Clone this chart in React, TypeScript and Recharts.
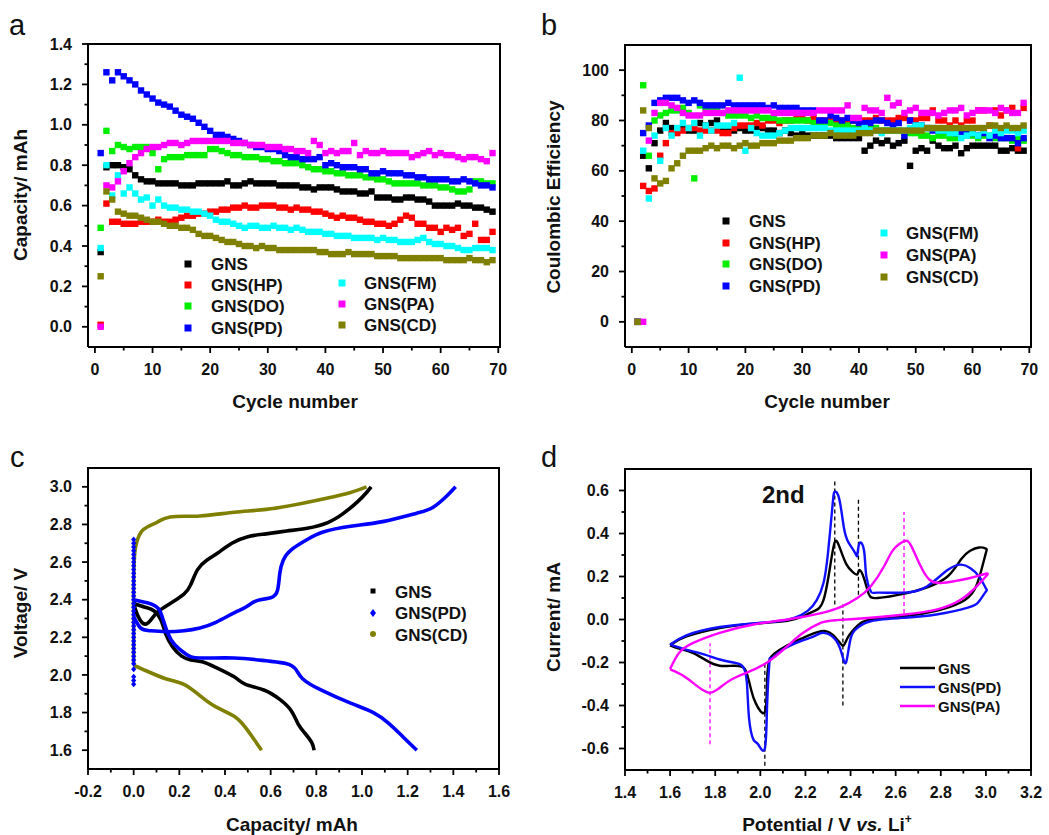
import React from 'react';
import { ComposedChart, Line, ReferenceLine, Scatter, ScatterChart, XAxis, YAxis } from 'recharts';

const FONT = '"Liberation Sans", Arial, Helvetica, sans-serif';
const INK = '#111111';
const AXIS = '#000000';

const BLACK = '#000000';
const RED = '#ff0000';
const GREEN = '#00ee00';
const BLUE = '#0000ff';
const CYAN = '#00ffff';
const MAGENTA = '#ff00ff';
const OLIVE = '#808000';

// ---------- panel a / b: cycling data ----------
const cycles = [
  1, 2, 3, 4, 5, 6, 7, 8, 9, 10, 11, 12, 13, 14, 15, 16, 17, 18, 19, 20, 21, 22, 23, 24, 25, 26, 27, 28, 29, 30,
  31, 32, 33, 34, 35, 36, 37, 38, 39, 40, 41, 42, 43, 44, 45, 46, 47, 48, 49, 50, 51, 52, 53, 54, 55, 56, 57, 58,
  59, 60, 61, 62, 63, 64, 65, 66, 67, 68, 69
];

const capGNS = [
  0.37, 0.79, 0.8, 0.8, 0.79, 0.78, 0.75, 0.73, 0.72, 0.72, 0.71, 0.71, 0.71, 0.71, 0.7, 0.7, 0.7, 0.71, 0.71, 0.71,
  0.71, 0.71, 0.72, 0.7, 0.7, 0.71, 0.72, 0.71, 0.71, 0.71, 0.71, 0.7, 0.7, 0.7, 0.7, 0.69, 0.69, 0.68, 0.69, 0.69,
  0.69, 0.68, 0.67, 0.67, 0.67, 0.66, 0.66, 0.67, 0.64, 0.64, 0.64, 0.63, 0.63, 0.64, 0.64, 0.63, 0.63, 0.62, 0.6,
  0.6, 0.6, 0.6, 0.61, 0.6, 0.6, 0.59, 0.59, 0.58, 0.57
];
const capHP = [
  0.01, 0.61, 0.52, 0.52, 0.51, 0.51, 0.51, 0.52, 0.52, 0.52, 0.53, 0.52, 0.52, 0.53, 0.54, 0.55, 0.55, 0.56, 0.56,
  0.57, 0.57, 0.58, 0.58, 0.59, 0.59, 0.6, 0.59, 0.59, 0.6, 0.6, 0.6, 0.59, 0.59, 0.58, 0.59, 0.58, 0.58, 0.57, 0.57,
  0.56, 0.55, 0.54, 0.55, 0.54, 0.54, 0.53, 0.52, 0.52, 0.51, 0.51, 0.5, 0.51, 0.53, 0.55, 0.54, 0.51, 0.51, 0.49,
  0.49, 0.47, 0.49, 0.48, 0.49, 0.45, 0.46, 0.51, 0.43, 0.43, 0.47
];
const capDO = [
  0.49, 0.97, 0.87, 0.9, 0.89, 0.88, 0.89, 0.89, 0.89, 0.86, 0.78, 0.83, 0.84, 0.84, 0.84, 0.85, 0.85, 0.85, 0.85,
  0.88, 0.88, 0.87, 0.86, 0.85, 0.85, 0.84, 0.84, 0.84, 0.83, 0.83, 0.82, 0.82, 0.81, 0.81, 0.81, 0.8, 0.79, 0.78,
  0.78, 0.77, 0.77, 0.76, 0.76, 0.75, 0.75, 0.75, 0.74, 0.74, 0.73, 0.73, 0.72, 0.71, 0.71, 0.71, 0.71, 0.71, 0.7,
  0.7, 0.7, 0.69, 0.69, 0.68, 0.67, 0.67, 0.68, 0.72, 0.72, 0.71, 0.71
];
const capPD = [
  0.86, 1.26, 1.22, 1.26, 1.24, 1.22, 1.2, 1.17, 1.15, 1.13, 1.11, 1.1, 1.09, 1.07, 1.05, 1.04, 1.03, 1.01, 0.99,
  0.97, 0.95, 0.95, 0.94, 0.93, 0.92, 0.91, 0.9, 0.89, 0.89, 0.88, 0.88, 0.87, 0.85, 0.84, 0.84, 0.83, 0.83, 0.83,
  0.84, 0.8, 0.81, 0.8, 0.79, 0.79, 0.79, 0.78, 0.78, 0.76, 0.76, 0.77, 0.76, 0.76, 0.76, 0.75, 0.75, 0.74, 0.74,
  0.73, 0.73, 0.73, 0.73, 0.72, 0.72, 0.73, 0.72, 0.71, 0.7, 0.7, 0.69
];
const capFM = [
  0.39, 0.8, 0.65, 0.75, 0.66, 0.69, 0.66, 0.63, 0.64, 0.6, 0.63, 0.6, 0.59, 0.59, 0.58, 0.58, 0.57, 0.57, 0.56,
  0.55, 0.53, 0.52, 0.52, 0.51, 0.5, 0.49, 0.5, 0.5, 0.49, 0.49, 0.5, 0.49, 0.49, 0.48, 0.49, 0.48, 0.47, 0.47, 0.47,
  0.46, 0.46, 0.45, 0.45, 0.45, 0.44, 0.44, 0.44, 0.44, 0.43, 0.44, 0.43, 0.43, 0.42, 0.42, 0.42, 0.43, 0.44, 0.42,
  0.41, 0.41, 0.4, 0.4, 0.39, 0.38, 0.38, 0.39, 0.39, 0.39, 0.38
];
const capPA = [
  0.0, 0.7, 0.69, 0.72, 0.77, 0.81, 0.84, 0.86, 0.88, 0.89, 0.89, 0.9, 0.91, 0.91, 0.9, 0.91, 0.92, 0.92, 0.92, 0.92,
  0.92, 0.92, 0.92, 0.91, 0.91, 0.91, 0.9, 0.9, 0.9, 0.89, 0.89, 0.89, 0.88, 0.88, 0.87, 0.87, 0.86, 0.92, 0.9, 0.86,
  0.87, 0.86, 0.87, 0.87, 0.91, 0.85, 0.87, 0.86, 0.86, 0.87, 0.86, 0.86, 0.86, 0.86, 0.84, 0.85, 0.86, 0.87, 0.85,
  0.86, 0.85, 0.85, 0.84, 0.83, 0.84, 0.84, 0.83, 0.82, 0.86
];
const capCD = [
  0.25, 0.67, 0.63, 0.57, 0.56, 0.55, 0.55, 0.54, 0.53, 0.52, 0.52, 0.51, 0.5, 0.5, 0.49, 0.49, 0.48, 0.46, 0.45,
  0.45, 0.44, 0.43, 0.42, 0.42, 0.41, 0.4, 0.4, 0.39, 0.4, 0.39, 0.39, 0.38, 0.38, 0.38, 0.38, 0.38, 0.38, 0.38, 0.37,
  0.37, 0.36, 0.36, 0.36, 0.37, 0.36, 0.36, 0.36, 0.36, 0.35, 0.35, 0.35, 0.35, 0.34, 0.34, 0.34, 0.34, 0.34, 0.34,
  0.34, 0.34, 0.33, 0.33, 0.33, 0.33, 0.34, 0.33, 0.33, 0.32, 0.33
];

const ceGNS = [
  0, 66, 61, 71, 76, 79, 77, 76, 77, 76, 76, 79, 78, 79, 80, 77, 77, 76, 77, 76, 76, 77, 77, 76, 76, 75, 76, 75, 74,
  75, 74, 74, 74, 74, 74, 73, 73, 73, 73, 73, 68, 70, 72, 71, 72, 70, 71, 72, 62, 68, 69, 68, 72, 70, 69, 69, 70, 67,
  69, 70, 70, 70, 70, 70, 68, 68, 69, 68, 68
];
const ceHP = [
  0, 54, 52, 53, 66, 71, 75, 75, 76, 77, 77, 76, 76, 76, 76, 75, 75, 77, 78, 78, 78, 79, 78, 80, 80, 79, 80, 80, 81,
  81, 80, 81, 80, 80, 80, 80, 80, 79, 80, 80, 80, 80, 81, 80, 80, 80, 81, 81, 80, 80, 81, 81, 84, 80, 80, 78, 80, 78,
  80, 80, 84, 84, 78, 84, 82, 84, 85, 69, 85
];
const ceDO = [
  0, 94, 66, 80, 82, 83, 84, 84, 85, 83, 57, 86, 85, 85, 84, 83, 82, 82, 82, 82, 81, 82, 81, 81, 81, 80, 80, 80, 80,
  80, 80, 79, 79, 79, 79, 78, 78, 78, 77, 77, 77, 77, 77, 76, 76, 76, 76, 75, 75, 75, 74, 74, 73, 74, 74, 73, 73, 74,
  74, 74, 73, 74, 74, 73, 73, 73, 72, 73, 72
];
const cePD = [
  0, 75, 78, 87, 88, 89, 89, 89, 88, 87, 88, 87, 86, 86, 86, 86, 87, 86, 86, 86, 86, 86, 86, 85, 86, 85, 85, 85, 85,
  84, 84, 84, 80, 80, 82, 81, 80, 81, 80, 79, 79, 79, 80, 80, 79, 78, 79, 74, 80, 78, 78, 77, 76, 76, 76, 76, 75, 75,
  75, 75, 74, 75, 73, 74, 73, 73, 73, 71, 73
];
const ceFM = [
  0, 68, 49, 74, 64, 77, 74, 77, 79, 77, 79, 74, 78, 76, 78, 78, 78, 79, 97, 68, 77, 75, 74, 74, 74, 75, 76, 77, 77,
  77, 77, 77, 77, 77, 76, 76, 76, 76, 76, 76, 77, 76, 76, 75, 76, 76, 76, 76, 77, 78, 78, 77, 77, 76, 76, 75, 75, 73,
  74, 75, 74, 76, 74, 76, 75, 76, 76, 75, 76
];
const cePA = [
  0, 0, 72, 83, 87, 87, 86, 85, 83, 82, 82, 82, 83, 83, 83, 83, 84, 84, 84, 84, 84, 84, 84, 84, 83, 83, 83, 83, 83,
  83, 83, 83, 84, 84, 84, 84, 84, 86, 81, 81, 85, 84, 84, 83, 89, 86, 87, 83, 84, 85, 83, 83, 83, 82, 83, 84, 84, 85,
  82, 83, 84, 84, 84, 83, 85, 84, 83, 83, 87
];
const ceCD = [
  0, 84, 77, 57, 55, 56, 61, 63, 66, 68, 68, 68, 69, 70, 69, 70, 70, 69, 70, 71, 70, 70, 71, 71, 71, 72, 72, 72, 73,
  73, 73, 74, 74, 74, 75, 74, 74, 74, 74, 75, 75, 75, 76, 76, 76, 76, 76, 76, 76, 76, 76, 77, 77, 77, 77, 77, 77, 77,
  77, 77, 77, 77, 78, 78, 77, 78, 77, 77, 78
];

const sampleNames = ['GNS', 'GNS(HP)', 'GNS(DO)', 'GNS(PD)', 'GNS(FM)', 'GNS(PA)', 'GNS(CD)'];
const sampleColors = [BLACK, RED, GREEN, BLUE, CYAN, MAGENTA, OLIVE];
const capacitySeries = [capGNS, capHP, capDO, capPD, capFM, capPA, capCD];
const efficiencySeries = [ceGNS, ceHP, ceDO, cePD, ceFM, cePA, ceCD];

// ---------- panel c: charge / discharge profiles [capacity, voltage] ----------
const gnsCharge: [number, number][] = [
  [0.0, 2.38], [0.02, 2.31], [0.05, 2.27], [0.08, 2.3], [0.11, 2.34], [0.16, 2.38], [0.22, 2.43], [0.25, 2.48],
  [0.28, 2.56], [0.32, 2.61], [0.37, 2.65], [0.43, 2.7], [0.5, 2.735], [0.58, 2.75], [0.67, 2.765], [0.76, 2.78],
  [0.85, 2.81], [0.92, 2.86], [0.98, 2.92], [1.02, 2.97], [1.04, 3.0]
];
const gnsDischarge: [number, number][] = [
  [0.0, 2.38], [0.05, 2.36], [0.09, 2.34], [0.12, 2.29], [0.14, 2.22], [0.17, 2.15], [0.21, 2.1], [0.25, 2.08],
  [0.3, 2.07], [0.36, 2.04], [0.44, 1.99], [0.49, 1.95], [0.57, 1.92], [0.64, 1.87], [0.69, 1.81], [0.72, 1.74],
  [0.75, 1.69], [0.78, 1.64], [0.79, 1.6]
];
const pdCharge: [number, number][] = [
  [0.0, 2.31], [0.03, 2.25], [0.07, 2.235], [0.14, 2.23], [0.22, 2.235], [0.29, 2.25], [0.36, 2.28], [0.44, 2.33],
  [0.49, 2.36], [0.54, 2.395], [0.6, 2.41], [0.63, 2.45], [0.64, 2.54], [0.655, 2.61], [0.69, 2.665], [0.76, 2.72],
  [0.83, 2.76], [0.95, 2.79], [1.09, 2.815], [1.24, 2.86], [1.31, 2.89], [1.37, 2.95], [1.41, 3.0]
];
const pdDischarge: [number, number][] = [
  [0.0, 2.4], [0.07, 2.38], [0.11, 2.35], [0.13, 2.29], [0.15, 2.22], [0.18, 2.16], [0.23, 2.11], [0.29, 2.09],
  [0.44, 2.09], [0.58, 2.075], [0.67, 2.06], [0.71, 2.03], [0.74, 1.98], [0.82, 1.92], [0.95, 1.85], [1.05, 1.8],
  [1.12, 1.74], [1.18, 1.67], [1.24, 1.6]
];
const pdRestVoltages = [
  1.95, 1.97, 1.99, 2.03, 2.06, 2.08, 2.1, 2.12, 2.14, 2.16, 2.18, 2.2, 2.22, 2.24, 2.26, 2.28, 2.3, 2.32, 2.34, 2.36,
  2.38, 2.4, 2.42, 2.44, 2.46, 2.48, 2.5, 2.52, 2.54, 2.56, 2.58, 2.6, 2.62, 2.64, 2.66, 2.68, 2.7, 2.72
];
const cdCharge: [number, number][] = [
  [0.0, 2.06], [0.0, 2.3], [0.0, 2.5], [0.004, 2.64], [0.012, 2.7], [0.04, 2.77], [0.1, 2.81], [0.16, 2.84],
  [0.29, 2.845], [0.44, 2.865], [0.58, 2.88], [0.73, 2.91], [0.85, 2.94], [0.95, 2.97], [1.02, 3.0]
];
const cdDischarge: [number, number][] = [
  [0.0, 2.05], [0.04, 2.03], [0.14, 1.98], [0.22, 1.95], [0.29, 1.89], [0.36, 1.83], [0.44, 1.78], [0.49, 1.72],
  [0.52, 1.67], [0.56, 1.6]
];

// ---------- panel d: cyclic voltammetry [potential, current] ----------
const cvGNS: [number, number][] = [
  [1.6, -0.12], [1.67, -0.08], [1.82, -0.04], [1.97, -0.02], [2.12, -0.006], [2.19, 0.015], [2.24, 0.04],
  [2.28, 0.09], [2.31, 0.25], [2.33, 0.36], [2.35, 0.34], [2.38, 0.26], [2.41, 0.22], [2.43, 0.21], [2.44, 0.23],
  [2.46, 0.19], [2.48, 0.12], [2.52, 0.1], [2.64, 0.12], [2.74, 0.15], [2.83, 0.2], [2.89, 0.28], [2.93, 0.32],
  [2.97, 0.335], [3.0, 0.33], [3.0, 0.31], [2.98, 0.23], [2.95, 0.14], [2.89, 0.08], [2.78, 0.04], [2.64, 0.015],
  [2.49, 0.0], [2.43, -0.03], [2.39, -0.08], [2.37, -0.12], [2.35, -0.105], [2.32, -0.07], [2.29, -0.054],
  [2.25, -0.06], [2.19, -0.085], [2.12, -0.12], [2.06, -0.16], [2.04, -0.19], [2.03, -0.28], [2.02, -0.43],
  [1.98, -0.39], [1.96, -0.33], [1.94, -0.25], [1.92, -0.22], [1.88, -0.215], [1.82, -0.215], [1.76, -0.19],
  [1.7, -0.155], [1.64, -0.135], [1.6, -0.12]
];
const cvPD: [number, number][] = [
  [1.6, -0.116], [1.67, -0.075], [1.82, -0.035], [2.04, -0.012], [2.15, 0.008], [2.21, 0.04], [2.25, 0.09],
  [2.28, 0.17], [2.3, 0.31], [2.32, 0.53], [2.33, 0.595], [2.35, 0.56], [2.37, 0.43], [2.39, 0.36], [2.42, 0.31],
  [2.43, 0.3], [2.44, 0.355], [2.46, 0.32], [2.47, 0.2], [2.49, 0.13], [2.52, 0.125], [2.64, 0.125], [2.74, 0.155],
  [2.83, 0.23], [2.89, 0.255], [2.93, 0.24], [2.97, 0.2], [3.0, 0.145], [3.0, 0.13], [2.97, 0.085], [2.92, 0.055],
  [2.78, 0.023], [2.64, 0.008], [2.49, -0.008], [2.43, -0.04], [2.4, -0.09], [2.38, -0.2], [2.36, -0.155],
  [2.33, -0.09], [2.28, -0.062], [2.24, -0.077], [2.18, -0.1], [2.1, -0.14], [2.05, -0.18], [2.04, -0.2],
  [2.03, -0.4], [2.02, -0.6], [1.99, -0.58], [1.97, -0.56], [1.95, -0.46], [1.94, -0.29], [1.92, -0.216],
  [1.88, -0.2], [1.82, -0.186], [1.75, -0.162], [1.67, -0.14], [1.6, -0.116]
];
const cvPA: [number, number][] = [
  [1.6, -0.23], [1.64, -0.155], [1.7, -0.11], [1.82, -0.062], [1.97, -0.023], [2.12, 0.0], [2.27, 0.03], [2.36, 0.06],
  [2.43, 0.1], [2.49, 0.155], [2.55, 0.25], [2.59, 0.325], [2.64, 0.365], [2.67, 0.34], [2.71, 0.25], [2.75, 0.185],
  [2.8, 0.17], [2.86, 0.178], [2.93, 0.193], [3.0, 0.213], [3.0, 0.2], [2.96, 0.155], [2.89, 0.093], [2.78, 0.046],
  [2.64, 0.023], [2.49, 0.008], [2.34, -0.003], [2.27, -0.015], [2.19, -0.062], [2.12, -0.124], [2.03, -0.2],
  [1.94, -0.247], [1.87, -0.28], [1.81, -0.325], [1.77, -0.34], [1.72, -0.31], [1.66, -0.263], [1.6, -0.232]
];
// dashed peak markers: [potential, from current, to current, colour]
const peakMarks: [number, number, number, string][] = [
  [2.33, 0.07, 0.65, BLACK],
  [2.435, 0.115, 0.56, BLACK],
  [2.366, -0.4, 0.07, BLACK],
  [2.02, -0.68, -0.21, BLACK],
  [2.637, 0.03, 0.5, MAGENTA],
  [1.777, -0.58, -0.11, MAGENTA]
];

// ---------- ticks ----------
const cycleTicks = [0, 5, 10, 15, 20, 25, 30, 35, 40, 45, 50, 55, 60, 65, 70];
const cycleMajors = [0, 10, 20, 30, 40, 50, 60, 70];
const capTicks = [0, 0.1, 0.2, 0.3, 0.4, 0.5, 0.6, 0.7, 0.8, 0.9, 1.0, 1.1, 1.2, 1.3, 1.4];
const capMajors = [0, 0.2, 0.4, 0.6, 0.8, 1.0, 1.2, 1.4];
const ceTicks = [0, 10, 20, 30, 40, 50, 60, 70, 80, 90, 100];
const ceMajors = [0, 20, 40, 60, 80, 100];
const cXTicks = [-0.2, -0.1, 0, 0.1, 0.2, 0.3, 0.4, 0.5, 0.6, 0.7, 0.8, 0.9, 1.0, 1.1, 1.2, 1.3, 1.4, 1.5, 1.6];
const cXMajors = [-0.2, 0, 0.2, 0.4, 0.6, 0.8, 1.0, 1.2, 1.4, 1.6];
const cYTicks = [1.6, 1.7, 1.8, 1.9, 2.0, 2.1, 2.2, 2.3, 2.4, 2.5, 2.6, 2.7, 2.8, 2.9, 3.0];
const cYMajors = [1.6, 1.8, 2.0, 2.2, 2.4, 2.6, 2.8, 3.0];
const dXTicks = [1.4, 1.5, 1.6, 1.7, 1.8, 1.9, 2.0, 2.1, 2.2, 2.3, 2.4, 2.5, 2.6, 2.7, 2.8, 2.9, 3.0, 3.1, 3.2];
const dXMajors = [1.4, 1.6, 1.8, 2.0, 2.2, 2.4, 2.6, 2.8, 3.0, 3.2];
const dYTicks = [-0.6, -0.5, -0.4, -0.3, -0.2, -0.1, 0, 0.1, 0.2, 0.3, 0.4, 0.5, 0.6];
const dYMajors = [-0.6, -0.4, -0.2, 0, 0.2, 0.4, 0.6];

type Panel = {
  left: number;
  top: number;
  width: number;
  height: number;
  margin: { top: number; right: number; bottom: number; left: number };
  domainX: [number, number];
  domainY: [number, number];
  xTicks: number[];
  xMajors: number[];
  yTicks: number[];
  yMajors: number[];
};

const panelA: Panel = {
  left: 0, top: 0, width: 520, height: 420, margin: { top: 44, right: 20, bottom: 33, left: 28 },
  domainX: [-1.2, 70.3], domainY: [-0.1, 1.4], xTicks: cycleTicks, xMajors: cycleMajors, yTicks: capTicks, yMajors: capMajors
};
const panelB: Panel = {
  left: 520, top: 0, width: 529, height: 420, margin: { top: 45, right: 18, bottom: 33, left: 45 },
  domainX: [-1.2, 70.3], domainY: [-10, 110], xTicks: cycleTicks, xMajors: cycleMajors, yTicks: ceTicks, yMajors: ceMajors
};
const panelC: Panel = {
  left: 0, top: 420, width: 520, height: 415, margin: { top: 48, right: 21, bottom: 26, left: 28 },
  domainX: [-0.2, 1.6], domainY: [1.5, 3.1], xTicks: cXTicks, xMajors: cXMajors, yTicks: cYTicks, yMajors: cYMajors
};
const panelD: Panel = {
  left: 520, top: 420, width: 529, height: 415, margin: { top: 49, right: 18, bottom: 25, left: 45 },
  domainX: [1.4, 3.2], domainY: [-0.7, 0.7], xTicks: dXTicks, xMajors: dXMajors, yTicks: dYTicks, yMajors: dYMajors
};

const toPoints = (xs: number[], ys: number[]) => xs.map((x, i) => ({ x, y: ys[i] }));
const pairPoints = (pairs: [number, number][]) => pairs.map(([x, y]) => ({ x, y }));

const fixed1 = (v: number) => v.toFixed(1);
const whole = (v: number) => String(Math.round(v));

function isMajor(majors: number[], v: number) {
  return majors.some((m) => Math.abs(m - v) < 1e-6);
}

// recharts hands over the axis position (tickSize/tickMargin are 0); tick mark + label drawn here
function bottomTick(majors: number[], fmt: (v: number) => string) {
  return (p: any) => {
    const v = p.payload.value;
    const major = isMajor(majors, v);
    return (
      <g>
        <line x1={p.x} x2={p.x} y1={p.y} y2={p.y + (major ? 6 : 3.5)} stroke={AXIS} strokeWidth={1.8} />
        {major ? (
          <text x={p.x} y={p.y + 28} textAnchor="middle" fontFamily={FONT} fontWeight="bold" fontSize={16} fill={INK}>
            {fmt(v)}
          </text>
        ) : null}
      </g>
    );
  };
}

function leftTick(majors: number[], fmt: (v: number) => string) {
  return (p: any) => {
    const v = p.payload.value;
    const major = isMajor(majors, v);
    return (
      <g>
        <line x1={p.x - (major ? 6 : 3.5)} x2={p.x} y1={p.y} y2={p.y} stroke={AXIS} strokeWidth={1.8} />
        {major ? (
          <text x={p.x - 16} y={p.y + 5.6} textAnchor="end" fontFamily={FONT} fontWeight="bold" fontSize={16} fill={INK}>
            {fmt(v)}
          </text>
        ) : null}
      </g>
    );
  };
}

const squareShape = (color: string) => (p: any) =>
  <rect x={p.cx - 3.2} y={p.cy - 3.2} width={6.4} height={6.4} fill={color} />;

const diamondShape = (p: any) => (
  <path d={`M${p.cx},${p.cy - 3} L${p.cx + 2.6},${p.cy} L${p.cx},${p.cy + 3} L${p.cx - 2.6},${p.cy} Z`} fill={BLUE} />
);

function axes(panel: Panel, xFmt: (v: number) => string, yFmt: (v: number) => string) {
  const frame = { stroke: AXIS, strokeWidth: 2, strokeLinecap: 'square' as const, ifOverflow: 'visible' as const };
  return [
    <XAxis
      key="x"
      type="number"
      dataKey="x"
      domain={panel.domainX}
      allowDataOverflow
      ticks={panel.xTicks}
      interval={0}
      tick={bottomTick(panel.xMajors, xFmt)}
      tickLine={false}
      tickSize={0}
      tickMargin={0}
      height={40}
      stroke={AXIS}
      axisLine={{ stroke: AXIS, strokeWidth: 2 }}
    />,
    <YAxis
      key="y"
      type="number"
      dataKey="y"
      domain={panel.domainY}
      allowDataOverflow
      ticks={panel.yTicks}
      interval={0}
      tick={leftTick(panel.yMajors, yFmt)}
      tickLine={false}
      tickSize={0}
      tickMargin={0}
      width={60}
      stroke={AXIS}
      axisLine={{ stroke: AXIS, strokeWidth: 2 }}
    />,
    <ReferenceLine key="frame-top" y={panel.domainY[1]} {...frame} />,
    <ReferenceLine key="frame-right" x={panel.domainX[1]} {...frame} />
  ];
}

function CycleChart({ panel, series, yFmt }: { panel: Panel; series: number[][]; yFmt: (v: number) => string }) {
  return (
    <ScatterChart width={panel.width} height={panel.height} margin={panel.margin}>
      {axes(panel, whole, yFmt)}
      {series.map((values, i) => (
        <Scatter
          key={sampleNames[i]}
          name={sampleNames[i]}
          data={toPoints(cycles, values)}
          shape={squareShape(sampleColors[i])}
          isAnimationActive={false}
        />
      ))}
    </ScatterChart>
  );
}

function ProfileChart() {
  const curves: [string, [number, number][], string][] = [
    ['cd-charge', cdCharge, OLIVE],
    ['cd-discharge', cdDischarge, OLIVE],
    ['gns-charge', gnsCharge, BLACK],
    ['gns-discharge', gnsDischarge, BLACK],
    ['pd-charge', pdCharge, BLUE],
    ['pd-discharge', pdDischarge, BLUE]
  ];
  return (
    <ComposedChart width={panelC.width} height={panelC.height} margin={panelC.margin}>
      {axes(panelC, fixed1, fixed1)}
      <Scatter
        name="GNS(PD) rest"
        data={pdRestVoltages.map((v) => ({ x: 0, y: v }))}
        shape={diamondShape}
        isAnimationActive={false}
      />
      {curves.map(([key, pts, color]) => (
        <Line
          key={key}
          data={pairPoints(pts)}
          dataKey="y"
          type="natural"
          stroke={color}
          strokeWidth={3.6}
          dot={false}
          activeDot={false}
          isAnimationActive={false}
        />
      ))}
    </ComposedChart>
  );
}

function VoltammetryChart() {
  const loops: [string, [number, number][], string][] = [
    ['GNS', cvGNS, BLACK],
    ['GNS(PD)', cvPD, '#1010ff'],
    ['GNS(PA)', cvPA, MAGENTA]
  ];
  return (
    <ComposedChart width={panelD.width} height={panelD.height} margin={panelD.margin}>
      {axes(panelD, fixed1, fixed1)}
      {peakMarks.map(([x, y1, y2, color], i) => (
        <ReferenceLine
          key={`pk${i}`}
          segment={[{ x, y: y1 }, { x, y: y2 }]}
          stroke={color}
          strokeWidth={1.3}
          strokeDasharray="4 3"
        />
      ))}
      {loops.map(([name, pts, color]) => (
        <Line
          key={name}
          name={name}
          data={pairPoints(pts)}
          dataKey="y"
          type="natural"
          stroke={color}
          strokeWidth={2.4}
          dot={false}
          activeDot={false}
          isAnimationActive={false}
        />
      ))}
    </ComposedChart>
  );
}

function Overlay() {
  const tStyle = { fontFamily: FONT, fontWeight: 'bold' as const, fill: INK };
  const legendA = (x0: number, y0s: number[], x1: number, y1s: number[], fontSize: number) => (
    <g>
      {[0, 1, 2, 3].map((i) => (
        <g key={sampleNames[i]}>
          <rect x={x0 - 3.5} y={y0s[i] - 3.5} width={7} height={7} fill={sampleColors[i]} />
          <text x={x0 + 23} y={y0s[i] + 6} fontSize={fontSize} {...tStyle}>{sampleNames[i]}</text>
        </g>
      ))}
      {[4, 5, 6].map((i, k) => (
        <g key={sampleNames[i]}>
          <rect x={x1 - 3.5} y={y1s[k] - 3.5} width={7} height={7} fill={sampleColors[i]} />
          <text x={x1 + 22} y={y1s[k] + 6} fontSize={fontSize} {...tStyle}>{sampleNames[i]}</text>
        </g>
      ))}
    </g>
  );
  return (
    <svg width={1049} height={835} style={{ position: 'absolute', left: 0, top: 0, pointerEvents: 'none' }}>
      {/* panel letters */}
      <text x={9} y={35} fontSize={29} fontFamily={FONT} fill={INK}>a</text>
      <text x={541} y={35} fontSize={29} fontFamily={FONT} fill={INK}>b</text>
      <text x={10} y={467} fontSize={29} fontFamily={FONT} fill={INK}>c</text>
      <text x={541} y={467} fontSize={29} fontFamily={FONT} fill={INK}>d</text>

      {/* axis titles */}
      <text x={27} y={195} fontSize={19} textAnchor="middle" transform="rotate(-90 27 195)" {...tStyle}>Capacity/ mAh</text>
      <text x={295} y={408} fontSize={19} textAnchor="middle" {...tStyle}>Cycle number</text>
      <text x={560} y={197} fontSize={19} textAnchor="middle" transform="rotate(-90 560 197)" {...tStyle}>Coulombic Efficiency</text>
      <text x={827} y={408} fontSize={19} textAnchor="middle" {...tStyle}>Cycle number</text>
      <text x={27} y={613} fontSize={19} textAnchor="middle" transform="rotate(-90 27 613)" {...tStyle}>Voltage/ V</text>
      <text x={292} y={831} fontSize={19} textAnchor="middle" {...tStyle}>Capacity/ mAh</text>
      <text x={560} y={617} fontSize={19} textAnchor="middle" transform="rotate(-90 560 617)" {...tStyle}>Current/ mA</text>
      <text x={827} y={831} fontSize={19} textAnchor="middle" {...tStyle}>
        Potential / V <tspan fontStyle="italic">vs.</tspan> Li<tspan dy={-8} fontSize={12}>+</tspan>
      </text>

      {/* legends a, b */}
      {legendA(188, [264, 285, 306, 328], 342, [283, 304, 325], 17)}
      {legendA(726, [221, 243, 264, 286], 884, [233, 255, 277], 17)}

      {/* legend c */}
      <rect x={370.5} y={588.5} width={5} height={5} fill={BLACK} />
      <text x={395} y={597.5} fontSize={17} {...tStyle}>GNS</text>
      <path d="M373,609 L376,613 L373,617 L370,613 Z" fill={BLUE} />
      <text x={395} y={619} fontSize={17} {...tStyle}>GNS(PD)</text>
      <circle cx={373} cy={634} r={3} fill={OLIVE} />
      <text x={395} y={640.5} fontSize={17} {...tStyle}>GNS(CD)</text>

      {/* legend d */}
      <line x1={900} x2={935} y1={668} y2={668} stroke={BLACK} strokeWidth={2.5} />
      <text x={938} y={673.5} fontSize={15} {...tStyle}>GNS</text>
      <line x1={900} x2={935} y1={687} y2={687} stroke="#1010ff" strokeWidth={2.5} />
      <text x={938} y={692.5} fontSize={15} {...tStyle}>GNS(PD)</text>
      <line x1={900} x2={935} y1={706} y2={706} stroke={MAGENTA} strokeWidth={2.5} />
      <text x={938} y={711.5} fontSize={15} {...tStyle}>GNS(PA)</text>

      <text x={762} y={503} fontSize={24} {...tStyle}>2nd</text>
    </svg>
  );
}

export default function App() {
  return (
    <div style={{ position: 'absolute', left: 0, top: 0, width: 1049, height: 835, background: '#ffffff', overflow: 'hidden' }}>
      <div style={{ position: 'absolute', left: panelA.left, top: panelA.top }}>
        <CycleChart panel={panelA} series={capacitySeries} yFmt={fixed1} />
      </div>
      <div style={{ position: 'absolute', left: panelB.left, top: panelB.top }}>
        <CycleChart panel={panelB} series={efficiencySeries} yFmt={whole} />
      </div>
      <div style={{ position: 'absolute', left: panelC.left, top: panelC.top }}>
        <ProfileChart />
      </div>
      <div style={{ position: 'absolute', left: panelD.left, top: panelD.top }}>
        <VoltammetryChart />
      </div>
      <Overlay />
    </div>
  );
}
